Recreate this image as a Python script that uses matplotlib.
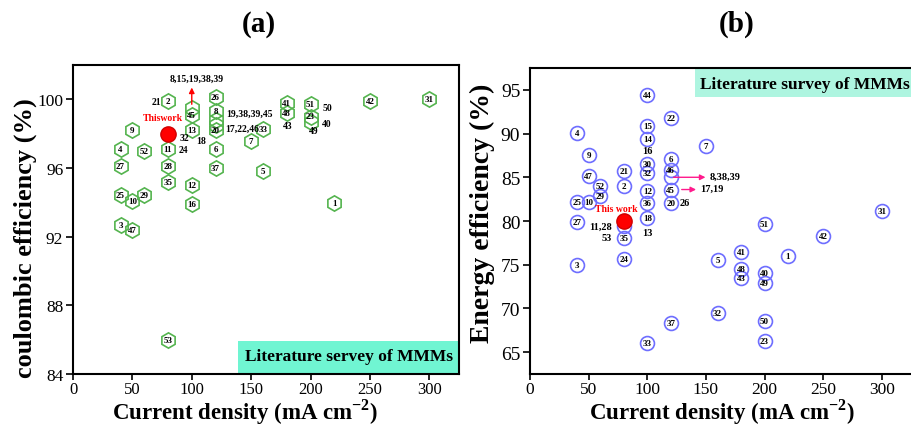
import matplotlib
matplotlib.use("Agg")
import matplotlib.pyplot as plt
from matplotlib.patches import Rectangle

plt.rcParams['font.family'] = ['Liberation Serif', 'DejaVu Serif']
plt.rcParams['mathtext.fontset'] = 'custom'
plt.rcParams['mathtext.rm'] = 'Liberation Serif'
plt.rcParams['mathtext.bf'] = 'Liberation Serif:bold'

# (a) coulombic efficiency vs current density, reference number of each work
ce_current = [80, 100, 100, 100, 50, 40, 60, 80, 40, 80, 80, 100, 100, 40, 50, 60,
              40, 50, 80, 120, 120, 120, 120, 120, 120, 120, 160, 150, 160, 180, 180,
              200, 200, 200, 250, 220, 300]
ce_value = [99.9, 99.5, 99.1, 98.2, 98.2, 97.1, 97.0, 97.1, 96.1, 96.1, 95.2, 95.0, 93.9,
            94.4, 94.1, 94.4, 92.7, 92.4, 86.0, 100.15, 99.3, 98.8, 98.5, 98.2, 97.1, 96.0,
            98.3, 97.6, 95.8, 99.8, 99.2, 99.75, 99.0, 98.7, 99.9, 93.95, 100.0]
ce_ref = ['2', '', '45', '13', '9', '4', '52', '11', '27', '28', '35', '12', '16',
          '25', '10', '29', '3', '47', '53', '26', '8', '', '', '20', '6', '37',
          '33', '7', '5', '41', '48', '51', '23', '', '42', '1', '31']
ce_this_work = (80, 98.0)

# (b) energy efficiency vs current density
ee_current = [100, 120, 40, 100, 100, 150, 50, 100, 100, 120, 120, 120, 120, 120,
              80, 80, 50, 60, 60, 50, 40, 40, 100, 100, 100, 80, 80, 80, 40, 160,
              180, 180, 180, 200, 200, 200, 220, 250, 300, 160, 120, 100, 200, 200]
ee_value = [94.4, 91.8, 90.05, 90.9, 89.4, 88.6, 87.6, 86.5, 85.5, 87.1, 85.8, 85.0, 83.6, 82.1,
            85.7, 84.0, 85.1, 84.0, 82.9, 82.2, 82.2, 79.9, 83.4, 82.1, 80.4, 79.4, 78.0, 75.6,
            75.0, 75.5, 76.4, 74.5, 73.5, 74.1, 72.9, 79.6, 76.0, 78.3, 81.2, 69.5, 68.3, 66.1,
            68.6, 66.3]
ee_ref = ['44', '22', '4', '15', '14', '7', '9', '30', '32', '6', '46', '', '45', '20',
          '21', '2', '47', '52', '29', '10', '25', '27', '12', '36', '18', '', '35', '24',
          '3', '5', '41', '48', '43', '40', '49', '51', '1', '42', '31', '32', '37', '33',
          '50', '23']
ee_this_work = (80, 80.0)

green = '#55b44f'
blue = '#6e6eff'
num_font = dict(fontsize=6.5, fontweight='bold', ha='center', va='center', color='black')

fig = plt.figure(figsize=(9.11, 4.27), dpi=100)
ax_a = fig.add_axes([73 / 911, 52 / 427, 386 / 911, 309 / 427])
ax_b = fig.add_axes([530 / 911, 52 / 427, 387 / 911, 306 / 427])

# ---- panel (a)
ax_a.plot(ce_current, ce_value, 'h', ms=11, mfc='none', mec=green, mew=1.2, ls='none')
for x, y, r in zip(ce_current, ce_value, ce_ref):
    if r:
        ax_a.text(x, y, r, **num_font)
ax_a.plot(*ce_this_work, 'o', ms=11, color='red', mec='#d00000')
ax_a.text(76, 98.93, 'Thiswork', color='red', fontsize=7, fontweight='bold', ha='center', va='center')
ax_a.annotate('', xy=(100, 100.85), xytext=(100, 99.55),
              arrowprops=dict(arrowstyle='-|>', color='red', lw=1.0, mutation_scale=8))
for txt, x, y, ha in [('8,15,19,38,39', 104, 101.2, 'center'), ('21', 74, 99.86, 'right'),
                      ('19,38,39,45', 129, 99.2, 'left'), ('17,22,46', 128, 98.34, 'left'),
                      ('18', 108, 97.6, 'center'), ('32', 93.5, 97.75, 'center'),
                      ('24', 93, 97.1, 'center'), ('43', 181, 98.45, 'center'),
                      ('50', 214, 99.5, 'center'), ('40', 214, 98.6, 'center'),
                      ('49', 203, 98.2, 'center')]:
    ax_a.text(x, y, txt, fontsize=7, fontweight='bold', ha=ha, va='center')

ax_a.set_xlim(0, 325)
ax_a.set_ylim(84, 102)
ax_a.set_xticks([0, 50, 100, 150, 200, 250, 300])
ax_a.set_yticks([84, 88, 92, 96, 100])
ax_a.tick_params(labelsize=12.5, direction='out', length=5, width=1.2, pad=2)
ax_a.tick_params(axis='x', labelsize=12, length=4, pad=1)
ax_a.add_patch(Rectangle((0.427, 0), 0.573, 0.107, transform=ax_a.transAxes,
                         facecolor='#70f5d2', edgecolor='none', zorder=0))
ax_a.text(0.446, 0.058, 'Literature servey of MMMs', transform=ax_a.transAxes,
          fontsize=12.5, fontweight='bold', ha='left', va='center')

# ---- panel (b)
ax_b.plot(ee_current, ee_value, 'o', ms=10, mfc='none', mec=blue, mew=1.2, ls='none')
for x, y, r in zip(ee_current, ee_value, ee_ref):
    if r:
        ax_b.text(x, y, r, **num_font)
ax_b.plot(*ee_this_work, 'o', ms=11, color='red', mec='#d00000')
ax_b.text(74, 81.4, 'This work', color='red', fontsize=7, fontweight='bold', ha='center', va='center')
ax_b.annotate('', xy=(152, 85.0), xytext=(120, 85.0),
              arrowprops=dict(arrowstyle='-|>', color='#ff1a8c', lw=1.0, mutation_scale=8))
ax_b.annotate('', xy=(144, 83.6), xytext=(127, 83.6),
              arrowprops=dict(arrowstyle='-|>', color='#ff1a8c', lw=1.0, mutation_scale=8))
for txt, x, y, ha in [('8,38,39', 153, 85.1, 'left'), ('17,19', 145, 83.7, 'left'),
                      ('26', 132, 82.1, 'center'), ('16', 100, 88.1, 'center'),
                      ('13', 100.3, 78.7, 'center'), ('11,28', 70, 79.4, 'right'),
                      ('53', 70, 78.1, 'right')]:
    ax_b.text(x, y, txt, fontsize=7.5, fontweight='bold', ha=ha, va='center')

ax_b.set_xlim(0, 330)
ax_b.set_ylim(62.5, 97.5)
ax_b.set_xticks([0, 50, 100, 150, 200, 250, 300])
ax_b.set_yticks([65, 70, 75, 80, 85, 90, 95])
ax_b.tick_params(labelsize=14, direction='out', length=5, width=1.2, pad=2)
ax_b.tick_params(axis='x', labelsize=12.5, length=4, pad=1)
ax_b.add_patch(Rectangle((0.426, 0.905), 0.6, 0.095, transform=ax_b.transAxes,
                         facecolor='#aef5e0', edgecolor='none', zorder=0))
ax_b.text(0.44, 0.948, 'Literature survey of MMMs', transform=ax_b.transAxes,
          fontsize=12.5, fontweight='bold', ha='left', va='center')

for ax in (ax_a, ax_b):
    for s in ax.spines.values():
        s.set_linewidth(1.5)

xlab = r'Current density (mA cm$^{\mathbf{-2}}$)'
fig.text(245 / 911, 1 - 412 / 427, xlab, fontsize=16.5, fontweight='bold', ha='center', va='center')
fig.text(722 / 911, 1 - 412 / 427, xlab, fontsize=16.5, fontweight='bold', ha='center', va='center')
fig.text(25 / 911, 1 - 238 / 427, 'coulombic efficiency (%)', fontsize=19, fontweight='bold',
         rotation=90, ha='center', va='center')
fig.text(482 / 911, 1 - 213 / 427, 'Energy efficiency (%)', fontsize=20, fontweight='bold',
         rotation=90, ha='center', va='center')
fig.text(259 / 911, 1 - 24 / 427, '(a)', fontsize=21, fontweight='bold', ha='center', va='center')
fig.text(737 / 911, 1 - 24 / 427, '(b)', fontsize=21, fontweight='bold', ha='center', va='center')

fig.savefig('out.png', dpi=100)
